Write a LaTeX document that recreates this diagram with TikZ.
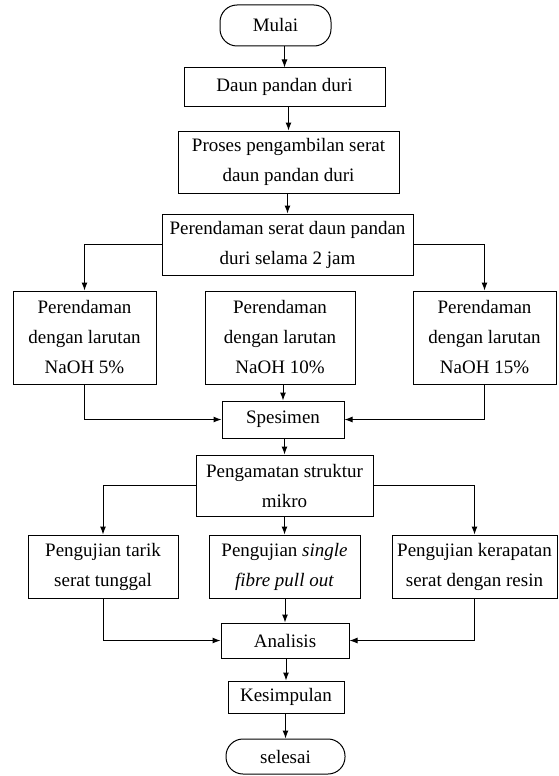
\documentclass[tikz,border=0pt]{standalone}
\usepackage{fontspec}
\setmainfont{Liberation Serif}
\usetikzlibrary{arrows.meta}

\tikzset{
  box/.style={draw, line width=1pt, align=center, inner sep=0pt,
    font=\fontsize{19}{30}\selectfont},
  term/.style={box, rounded corners=17pt},
  arr/.style={line width=1pt, -{Latex[length=8pt,width=6pt]}}
}

\begin{document}
\begin{tikzpicture}[x=1pt,y=1pt]
  \useasboundingbox (0,0) rectangle (558,-776);

  \node[term, minimum width=111, minimum height=41] (mulai) at (275.5,-25.5) {Mulai};
  \node[box, minimum width=201, minimum height=38] (daun) at (284.5,-87) {Daun pandan duri};
  \node[box, minimum width=221, minimum height=62] (proses) at (288.5,-162)
    {Proses pengambilan serat\\daun pandan duri};
  \node[box, minimum width=251, minimum height=61] (rendam) at (287.5,-244.5)
    {Perendaman serat daun pandan\\duri selama 2 jam};

  \node[box, minimum width=143, minimum height=93] (naoh5) at (84.5,-337.5)
    {Perendaman\\dengan larutan\\NaOH 5\%};
  \node[box, minimum width=150, minimum height=93] (naoh10) at (280,-337.5)
    {Perendaman\\dengan larutan\\NaOH 10\%};
  \node[box, minimum width=143, minimum height=93] (naoh15) at (484.5,-337.5)
    {Perendaman\\dengan larutan\\NaOH 15\%};

  \node[box, minimum width=122, minimum height=37] (spesimen) at (283,-419.5) {Spesimen};
  \node[box, minimum width=177, minimum height=61] (amati) at (284.5,-485.5)
    {Pengamatan struktur\\mikro};

  \node[box, minimum width=150, minimum height=63] (tarik) at (103,-566.5)
    {Pengujian tarik\\serat tunggal};
  \node[box, minimum width=151, minimum height=63] (pullout) at (284.5,-566.5)
    {Pengujian \textit{single}\\\textit{fibre pull out}};
  \node[box, minimum width=165, minimum height=63] (rapat) at (474.5,-566.5)
    {Pengujian kerapatan\\serat dengan resin};

  \node[box, minimum width=128, minimum height=35] (analisis) at (285,-640.5) {Analisis};
  \node[box, minimum width=116, minimum height=32] (simpulan) at (286,-697) {Kesimpulan};
  \node[term, minimum width=119, minimum height=35] (selesai) at (285.5,-756.5) {selesai};

  \foreach \a/\b in {mulai/daun, daun/proses, proses/rendam, naoh10/spesimen,
    spesimen/amati, amati/pullout, pullout/analisis, analisis/simpulan, simpulan/selesai}
    \draw[arr] (\b.north |- \a.south) -- (\b.north);

  \draw[arr] (rendam.west) -| (naoh5.north);
  \draw[arr] (rendam.east) -| (naoh15.north);
  \draw[arr] (naoh5.south) |- (spesimen.west);
  \draw[arr] (naoh15.south) |- (spesimen.east);

  \draw[arr] (amati.west) -| (tarik.north);
  \draw[arr] (amati.east) -| (rapat.north);
  \draw[arr] (tarik.south) |- (analisis.west);
  \draw[arr] (rapat.south) |- (analisis.east);
\end{tikzpicture}
\end{document}
